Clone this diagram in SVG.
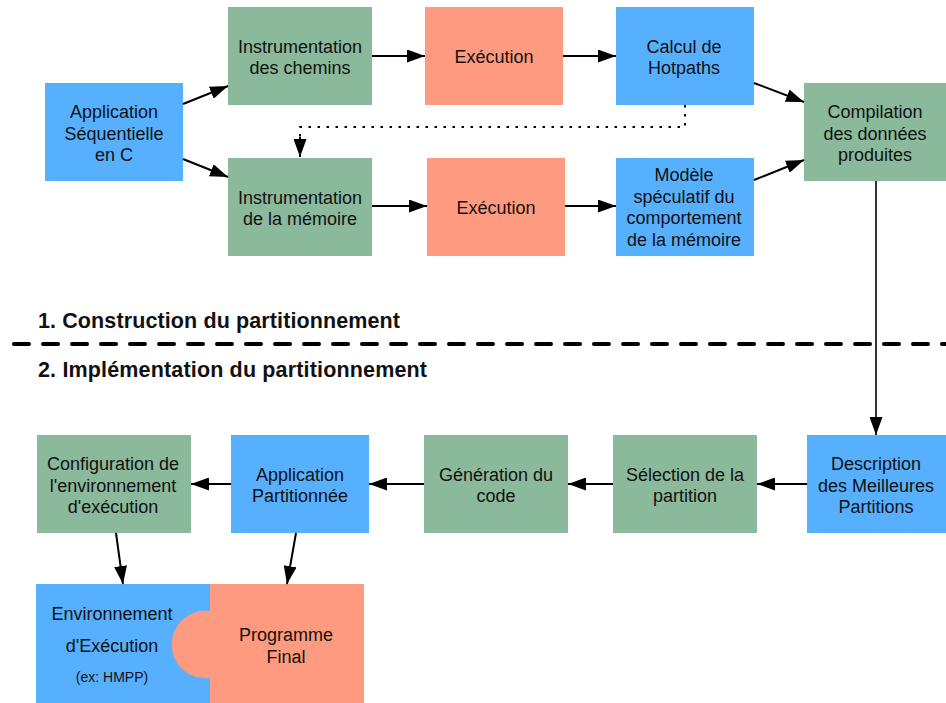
<svg xmlns="http://www.w3.org/2000/svg" width="946" height="703" viewBox="0 0 946 703">
  <style>
    .blue { fill: #56b0fe; }
    .green { fill: #8ab99b; }
    .salmon { fill: #fe9a7f; }
    text { font-family: "Liberation Sans", Arial, Helvetica, sans-serif; font-size: 18px; fill: #111; text-anchor: middle; }
    .small { font-size: 14px; }
    .head { font-size: 21.5px; font-weight: bold; text-anchor: start; }
    .edge { fill: none; stroke: #000; stroke-width: 2; marker-end: url(#arrow); }
    .dotted { fill: none; stroke: #000; stroke-width: 2; stroke-dasharray: 2.5 6.5; }
    .divider { fill: none; stroke: #000; stroke-width: 4; stroke-dasharray: 15 14; stroke-dashoffset: -14; stroke-linecap: round; }
  </style>
  <defs>
    <marker id="arrow" markerUnits="userSpaceOnUse" markerWidth="18" markerHeight="13" refX="18" refY="6.5" orient="auto">
      <path d="M0,0 L18,6.5 L0,13 Z" fill="#000"/>
    </marker>
  </defs>

  <rect width="946" height="703" fill="#fff"/>

  <!-- Phase 1 -->
  <g id="app-sequentielle">
    <rect class="blue" x="45" y="83" width="138" height="98"/>
    <text x="114" y="118">Application</text>
    <text x="114" y="139.5">Séquentielle</text>
    <text x="114" y="161">en C</text>
  </g>
  <g id="instr-chemins">
    <rect class="green" x="228" y="7" width="144" height="98"/>
    <text x="300" y="52.5">Instrumentation</text>
    <text x="300" y="74">des chemins</text>
  </g>
  <g id="execution-1">
    <rect class="salmon" x="425" y="7" width="138" height="98"/>
    <text x="494" y="62.5">Exécution</text>
  </g>
  <g id="calcul-hotpaths">
    <rect class="blue" x="616" y="7" width="138" height="98"/>
    <text x="684" y="52.5">Calcul de</text>
    <text x="684" y="74">Hotpaths</text>
  </g>
  <g id="compilation">
    <rect class="green" x="804" y="83" width="142" height="98"/>
    <text x="875" y="118">Compilation</text>
    <text x="875" y="139.5">des données</text>
    <text x="875" y="161">produites</text>
  </g>
  <g id="instr-memoire">
    <rect class="green" x="228" y="158" width="144" height="98"/>
    <text x="300" y="203.5">Instrumentation</text>
    <text x="300" y="225">de la mémoire</text>
  </g>
  <g id="execution-2">
    <rect class="salmon" x="427" y="158" width="138" height="98"/>
    <text x="496" y="213.5">Exécution</text>
  </g>
  <g id="modele-speculatif">
    <rect class="blue" x="616" y="158" width="138" height="98"/>
    <text x="684" y="181">Modèle</text>
    <text x="684" y="202.5">spéculatif du</text>
    <text x="684" y="224">comportement</text>
    <text x="684" y="245.5">de la mémoire</text>
  </g>

  <!-- Phase separator -->
  <g id="phases">
    <text class="head" x="38" y="328" textLength="362" lengthAdjust="spacing">1. Construction du partitionnement</text>
    <line class="divider" x1="0" y1="344" x2="946" y2="344"/>
    <text class="head" x="38" y="377" textLength="389" lengthAdjust="spacing">2. Implémentation du partitionnement</text>
  </g>

  <!-- Phase 2 -->
  <g id="description">
    <rect class="blue" x="807" y="435" width="139" height="98"/>
    <text x="876" y="470">Description</text>
    <text x="876" y="491.5">des Meilleures</text>
    <text x="876" y="513">Partitions</text>
  </g>
  <g id="selection">
    <rect class="green" x="613" y="435" width="144" height="98"/>
    <text x="685" y="480.5">Sélection de la</text>
    <text x="685" y="502">partition</text>
  </g>
  <g id="generation">
    <rect class="green" x="424" y="435" width="144" height="98"/>
    <text x="496" y="480.5">Génération du</text>
    <text x="496" y="502">code</text>
  </g>
  <g id="app-partitionnee">
    <rect class="blue" x="231" y="435" width="138" height="98"/>
    <text x="300" y="480.5">Application</text>
    <text x="300" y="502">Partitionnée</text>
  </g>
  <g id="configuration">
    <rect class="green" x="37" y="435" width="154" height="98"/>
    <text x="113" y="470">Configuration de</text>
    <text x="113" y="491.5">l'environnement</text>
    <text x="113" y="513">d'exécution</text>
  </g>
  <g id="environnement">
    <rect class="blue" x="36" y="584" width="174" height="119"/>
    <text x="112" y="620">Environnement</text>
    <text x="112" y="652">d'Exécution</text>
    <text class="small" x="112" y="682">(ex: HMPP)</text>
  </g>
  <g id="programme-final">
    <rect class="salmon" x="210" y="584" width="154" height="119"/>
    <path class="salmon" d="M210,611 A33.8,33.8 0 1 0 210,678 Z"/>
    <text x="286" y="641">Programme</text>
    <text x="286" y="663">Final</text>
  </g>

  <!-- Connectors -->
  <g id="connectors">
    <line class="edge" x1="183" y1="104" x2="228" y2="86"/>
    <line class="edge" x1="183" y1="159" x2="228" y2="177"/>
    <line class="edge" x1="372" y1="56" x2="425" y2="56"/>
    <line class="edge" x1="563" y1="56" x2="616" y2="56"/>
    <line class="edge" x1="372" y1="206" x2="427" y2="206"/>
    <line class="edge" x1="565" y1="206" x2="616" y2="206"/>
    <line class="edge" x1="754" y1="83" x2="804" y2="102"/>
    <line class="edge" x1="754" y1="180" x2="804" y2="160"/>
    <polyline class="dotted" points="685,105 685,127 300,127 300,139"/>
    <line class="edge" x1="300" y1="137" x2="300" y2="157"/>
    <line class="edge" x1="876" y1="181" x2="876" y2="435" style="stroke-width:1.6"/>
    <line class="edge" x1="807" y1="484" x2="757" y2="484"/>
    <line class="edge" x1="613" y1="484" x2="568" y2="484"/>
    <line class="edge" x1="424" y1="484" x2="369" y2="484"/>
    <line class="edge" x1="231" y1="484" x2="191" y2="484"/>
    <line class="edge" x1="116" y1="533" x2="123" y2="584"/>
    <line class="edge" x1="296" y1="533" x2="287" y2="584"/>
  </g>
</svg>
